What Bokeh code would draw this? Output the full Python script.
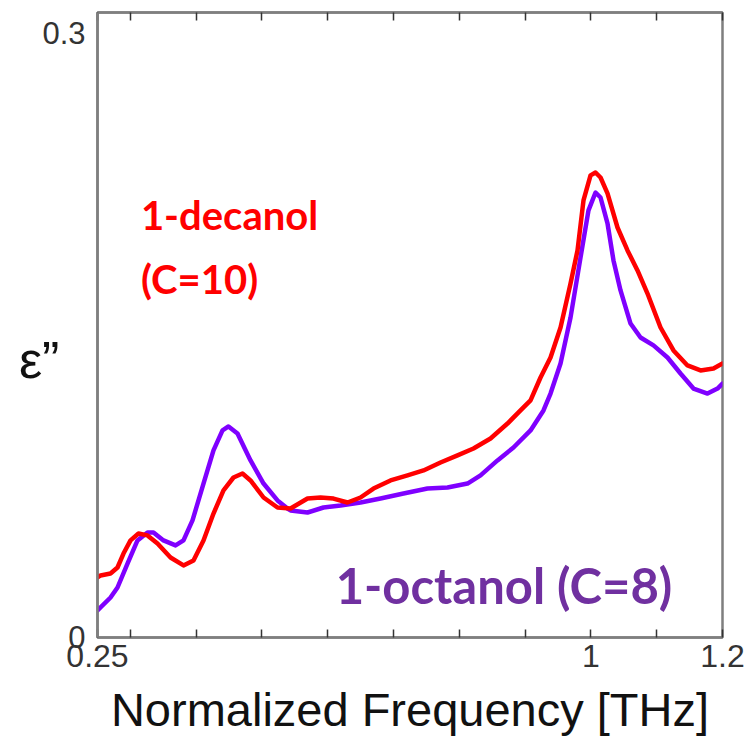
from bokeh.plotting import figure
from bokeh.models import LinearAxis, FixedTicker, Range1d, Label
from bokeh.embed import file_html
from bokeh.resources import INLINE

# Normalized frequency (THz) and epsilon'' values
decanol_x = [0.250, 0.2546, 0.2698, 0.2804, 0.2895, 0.3002, 0.3123, 0.3260, 0.3412, 0.3610,
             0.3807, 0.3959, 0.4111, 0.4263, 0.4415, 0.4567, 0.4704, 0.4826, 0.5024, 0.5236,
             0.5434, 0.5692, 0.5890, 0.6087, 0.6300, 0.6498, 0.6695, 0.6954, 0.7212, 0.7455,
             0.7714, 0.7972, 0.8215, 0.8474, 0.8732, 0.8930, 0.9082, 0.9234, 0.9386, 0.9538,
             0.9690, 0.9796, 0.9887, 0.9994, 1.0070, 1.0146, 1.0252, 1.0404, 1.0556, 1.0708,
             1.0860, 1.1058, 1.1255, 1.1468, 1.1666, 1.1863, 1.2000]
decanol_y = [0.0288, 0.0298, 0.0307, 0.0336, 0.0403, 0.0466, 0.0499, 0.0490, 0.0451, 0.0384,
             0.0346, 0.0370, 0.0466, 0.0595, 0.0706, 0.0768, 0.0787, 0.0754, 0.0672, 0.0624,
             0.0619, 0.0667, 0.0672, 0.0667, 0.0648, 0.0672, 0.0715, 0.0754, 0.0778, 0.0802,
             0.0840, 0.0874, 0.0907, 0.0955, 0.1027, 0.1090, 0.1138, 0.1248, 0.1344, 0.1488,
             0.1699, 0.1858, 0.2098, 0.2218, 0.2232, 0.2208, 0.2132, 0.1968, 0.1858, 0.1762,
             0.1651, 0.1488, 0.1378, 0.1306, 0.1282, 0.1291, 0.1315]

octanol_x = [0.250, 0.2698, 0.2804, 0.2956, 0.3108, 0.3260, 0.3351, 0.3503, 0.3686, 0.3807,
             0.3944, 0.4111, 0.4263, 0.4400, 0.4491, 0.4628, 0.4826, 0.5024, 0.5236, 0.5388,
             0.5434, 0.5692, 0.5935, 0.6194, 0.6498, 0.6802, 0.7151, 0.7516, 0.7820, 0.8124,
             0.8322, 0.8580, 0.8823, 0.9082, 0.9279, 0.9386, 0.9538, 0.9690, 0.9842, 0.9963,
             1.0070, 1.0146, 1.0252, 1.0343, 1.0450, 1.0602, 1.0754, 1.0951, 1.1164, 1.1362,
             1.1559, 1.1772, 1.1924, 1.2000]
octanol_y = [0.0130, 0.0192, 0.0240, 0.0355, 0.0466, 0.0504, 0.0504, 0.0466, 0.0442, 0.0466,
             0.0562, 0.0739, 0.0898, 0.0994, 0.1013, 0.0979, 0.0850, 0.0739, 0.0658, 0.0619,
             0.0610, 0.0600, 0.0624, 0.0634, 0.0648, 0.0667, 0.0691, 0.0715, 0.0720, 0.0739,
             0.0778, 0.0850, 0.0912, 0.0994, 0.1090, 0.1171, 0.1315, 0.1536, 0.1824, 0.2050,
             0.2136, 0.2112, 0.1988, 0.1810, 0.1666, 0.1507, 0.1440, 0.1402, 0.1344, 0.1267,
             0.1195, 0.1171, 0.1195, 0.1219]

x_ticks = [0.25, 0.3, 0.4, 0.5, 0.6, 0.7, 0.8, 0.9, 1.0, 1.1, 1.2]
x_tick_labels = {0.25: "0.25", 1.0: "1", 1.2: "1.2"}
y_ticks = [0.0, 0.3]
y_tick_labels = {0.0: "0", 0.3: "\n0.3"}

decanol_line1 = "1-decanol"
decanol_line2 = "(C=10)"
octanol_label = "1-octanol (C=8)"

AXIS_GRAY = "#7f7f7f"

p = figure(width=746, height=740, output_backend="svg", toolbar_location=None,
           x_range=Range1d(0.25, 1.2), y_range=Range1d(0.0, 0.3),
           x_axis_location=None, y_axis_location=None,
           min_border_left=97, min_border_right=24, min_border_top=12, min_border_bottom=103)
p.background_fill_color = "white"
p.border_fill_color = "white"
p.outline_line_color = AXIS_GRAY
p.outline_line_width = 2.5
p.xgrid.visible = False
p.ygrid.visible = False

xoverrides = {t: x_tick_labels.get(t, "") for t in x_ticks}

xb = LinearAxis(ticker=FixedTicker(ticks=x_ticks), major_label_overrides=xoverrides,
                axis_label="Normalized Frequency [THz]")
xb.major_tick_in = 8
xb.major_tick_out = 0
xb.minor_tick_in = 0
xb.minor_tick_out = 0
xb.major_tick_line_color = "#333333"
xb.major_tick_line_width = 1.5
xb.axis_line_color = AXIS_GRAY
xb.axis_line_width = 2.5
xb.major_label_standoff = 7
xb.major_label_text_font = "Liberation Sans"
xb.major_label_text_font_size = "32px"
xb.major_label_text_color = "#333333"
xb.axis_label_text_font = "Liberation Sans"
xb.axis_label_text_font_size = "47px"
xb.axis_label_text_font_style = "normal"
xb.axis_label_text_color = "#111111"
xb.axis_label_standoff = 13
p.add_layout(xb, "below")

xt = LinearAxis(ticker=FixedTicker(ticks=x_ticks),
                major_label_overrides={t: "" for t in x_ticks})
xt.major_tick_in = 8
xt.major_tick_out = 0
xt.minor_tick_in = 0
xt.minor_tick_out = 0
xt.major_tick_line_color = "#333333"
xt.major_tick_line_width = 1.5
xt.axis_line_color = AXIS_GRAY
xt.axis_line_width = 2.5
xt.major_label_standoff = 0
xt.major_label_text_font_size = "1px"
p.add_layout(xt, "above")

yl = LinearAxis(ticker=FixedTicker(ticks=y_ticks),
                major_label_overrides=y_tick_labels, axis_label="\nε”")
yl.major_tick_in = 0
yl.major_tick_out = 0
yl.minor_tick_in = 0
yl.minor_tick_out = 0
yl.axis_line_color = AXIS_GRAY
yl.axis_line_width = 2.5
yl.major_label_standoff = 12
yl.major_label_text_font = "Liberation Sans"
yl.major_label_text_font_size = "31px"
yl.major_label_text_line_height = 0.45
yl.major_label_text_color = "#333333"
yl.axis_label_orientation = "horizontal"
yl.axis_label_text_font = "Liberation Sans"
yl.axis_label_text_font_size = "52px"
yl.axis_label_text_font_style = "normal"
yl.axis_label_text_color = "#111111"
yl.axis_label_standoff = -20
p.add_layout(yl, "left")

p.line(octanol_x, octanol_y, line_color="#7f00ff", line_width=4.5,
       line_join="round", line_cap="round")
p.line(decanol_x, decanol_y, line_color="#ff0000", line_width=4.5,
       line_join="round", line_cap="round")

for txt, yy in ((decanol_line1, 0.2026), (decanol_line2, 0.1722)):
    p.add_layout(Label(x=0.316, y=yy, text=txt, text_color="#ff0000",
                       text_font="Lato", text_font_style="bold", text_font_size="40px",
                       text_baseline="alphabetic"))
p.add_layout(Label(x=0.612, y=0.0254, text=octanol_label, text_color="#7030a0",
                   text_font="Lato", text_font_style="bold", text_font_size="49px",
                   text_baseline="alphabetic"))

open("out.html", "w").write(file_html(p, INLINE))
